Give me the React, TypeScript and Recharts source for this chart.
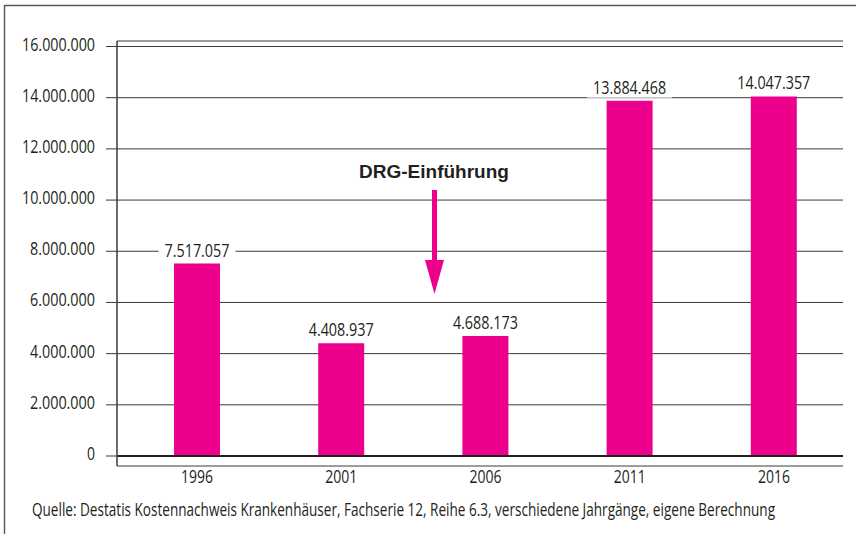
import React from 'react';
import { BarChart, Bar, XAxis, YAxis, CartesianGrid, ReferenceLine, LabelList } from 'recharts';

const years = ['1996', '2001', '2006', '2011', '2016'];
const cases = [7517057, 4408937, 4688173, 13884468, 14047357];
const yTicks = [0, 2000000, 4000000, 6000000, 8000000, 10000000, 12000000, 14000000, 16000000];
const annotationLabel = 'DRG-Einführung';
const sourceNote = 'Quelle: Destatis Kostennachweis Krankenhäuser, Fachserie 12, Reihe 6.3, verschiedene Jahrgänge, eigene Berechnung';

const data = years.map((year, i) => ({ year, value: cases[i] }));

const MAGENTA = '#EC008C';
const INK = '#231F20';
const FONT = "'Open Sans', 'Noto Sans', sans-serif";
const FS = 18;

const fmt = (v: number) => String(Math.round(v)).replace(/\B(?=(\d{3})+(?!\d))/g, '.');
// condensed look: digits ~8px, dots ~4.5px wide
const numWidth = (s: string) =>
  s.split('').reduce((w, c) => w + (c === '.' ? 4.5 : 8), 0);

const NumText = (p: any) => {
  const { s, ...rest } = p;
  return (
    <text
      {...rest}
      fill={INK}
      fontFamily={FONT}
      fontSize={FS}
      textLength={numWidth(s)}
      lengthAdjust="spacingAndGlyphs"
    >
      {s}
    </text>
  );
};

const YTick = (props: any) => {
  const { x, y, payload } = props;
  return <NumText x={x} y={y + 4} textAnchor="end" s={fmt(payload.value)} />;
};

const XTick = (props: any) => {
  const { x, y, payload } = props;
  return <NumText x={x} y={y + 16.5} textAnchor="middle" s={String(payload.value)} />;
};

const ValueLabel = (props: any) => {
  const { x, y, width, value } = props;
  const s = fmt(Number(value));
  const tw = numWidth(s);
  const cx = Number(x) + Number(width) / 2;
  const top = Number(y);
  return (
    <g>
      <rect x={cx - tw / 2 - 6} y={top - 24} width={tw + 12} height={21} fill="#fff" />
      <NumText x={cx} y={top - 7} textAnchor="middle" s={s} />
    </g>
  );
};

export default function App() {
  return (
    <div style={{ position: 'absolute', left: 0, top: 0, width: 856, height: 534, background: '#fff' }}>
      <BarChart
        width={856}
        height={534}
        data={data}
        margin={{ top: 41, right: 13, bottom: 38, left: 0 }}
      >
        <CartesianGrid vertical={false} stroke="#3a3a3a" strokeWidth={1} />
        <YAxis
          width={117}
          type="number"
          domain={[-390720, 16215000]}
          allowDataOverflow
          ticks={yTicks}
          interval={0}
          tickSize={11}
          tickMargin={11}
          tickLine={{ stroke: '#3a3a3a', strokeWidth: 1 }}
          axisLine={{ stroke: '#3a3a3a', strokeWidth: 1.5 }}
          tick={<YTick />}
        />
        <XAxis
          dataKey="year"
          height={30}
          axisLine={false}
          tickLine={false}
          tickSize={0}
          tickMargin={0}
          padding={{ left: 8, right: -3 }}
          tick={<XTick />}
          interval={0}
        />
        <ReferenceLine y={0} stroke={INK} strokeWidth={2} />
        <Bar dataKey="value" fill={MAGENTA} barSize={46} isAnimationActive={false}>
          <LabelList dataKey="value" content={<ValueLabel />} />
        </Bar>
      </BarChart>
      <svg
        width={856}
        height={534}
        style={{ position: 'absolute', left: 0, top: 0, pointerEvents: 'none' }}
      >
        <line x1={4.5} y1={5.5} x2={856} y2={5.5} stroke="#555" strokeWidth={1.4} />
        <line x1={4.5} y1={5} x2={4.5} y2={534} stroke="#555" strokeWidth={1.4} />
        <text
          x={434}
          y={178}
          textAnchor="middle"
          fill={INK}
          fontFamily="'Liberation Sans', Arial, sans-serif"
          fontWeight="bold"
          fontSize={19}
        >
          {annotationLabel}
        </text>
        <rect x={432} y={190} width={5} height={72} fill={MAGENTA} />
        <polygon points="425,260 444,260 434.5,294" fill={MAGENTA} />
        <text
          x={32}
          y={516}
          fill={INK}
          fontFamily={FONT}
          fontSize={FS}
          textLength={743}
          lengthAdjust="spacingAndGlyphs"
        >
          {sourceNote}
        </text>
      </svg>
    </div>
  );
}
